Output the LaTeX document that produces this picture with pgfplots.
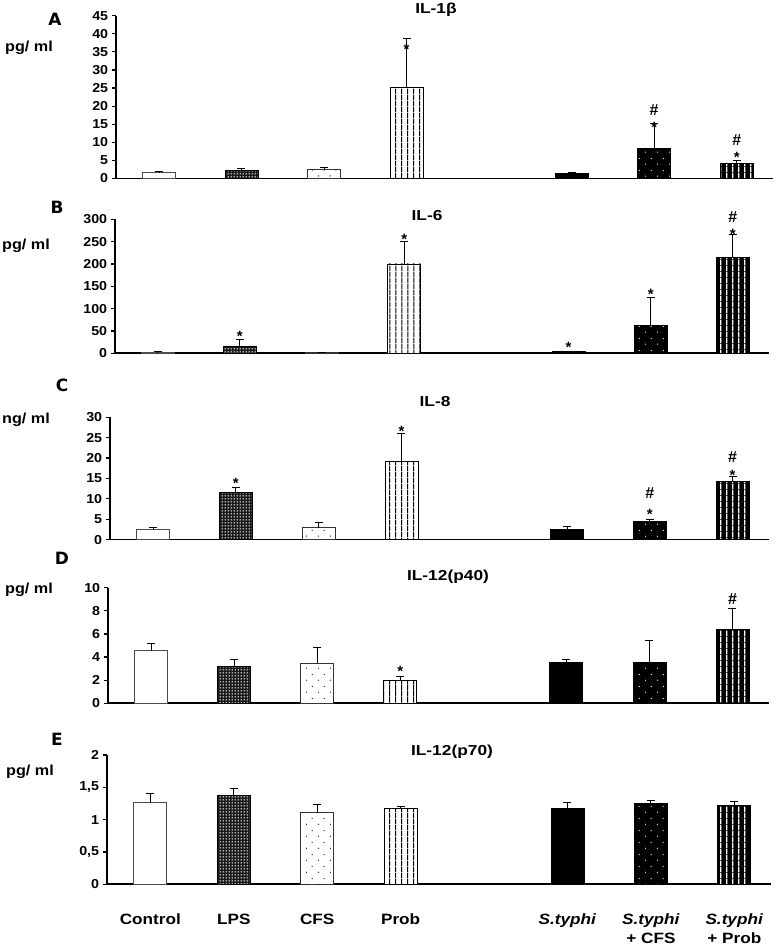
\documentclass[border=0pt]{standalone}
\usepackage{fontspec}
\setmainfont{Liberation Sans}
\newfontfamily\heavy{DejaVu Sans}
\usepackage{pgfplots}
\pgfplotsset{compat=1.18}
\usetikzlibrary{patterns}

\pgfdeclarepatternformonly{stagdots}{\pgfqpoint{0bp}{0bp}}{\pgfqpoint{11.7bp}{12bp}}{\pgfqpoint{11.7bp}{12bp}}{%
  \pgfpathcircle{\pgfqpoint{2.5bp}{3bp}}{0.65bp}%
  \pgfpathcircle{\pgfqpoint{8.35bp}{9bp}}{0.65bp}%
  \pgfusepath{fill}}
\pgfdeclarepatternformonly{densedots}{\pgfqpoint{0bp}{0bp}}{\pgfqpoint{2.7bp}{2.7bp}}{\pgfqpoint{2.7bp}{2.7bp}}{%
  \pgfpathrectangle{\pgfqpoint{0.8bp}{0.8bp}}{\pgfqpoint{1.1bp}{1.1bp}}%
  \pgfusepath{fill}}
\pgfdeclarepatternformonly{vlinesthin}{\pgfqpoint{0bp}{0bp}}{\pgfqpoint{5.7bp}{5.7bp}}{\pgfqpoint{5.7bp}{5.7bp}}{%
  \pgfpathrectangle{\pgfqpoint{2.35bp}{0bp}}{\pgfqpoint{1bp}{5.7bp}}%
  \pgfusepath{fill}}
\pgfdeclarepatternformonly{vlineswide}{\pgfqpoint{0bp}{0bp}}{\pgfqpoint{5.7bp}{5.7bp}}{\pgfqpoint{5.7bp}{5.7bp}}{%
  \pgfpathrectangle{\pgfqpoint{2.15bp}{0bp}}{\pgfqpoint{1.4bp}{5.7bp}}%
  \pgfusepath{fill}}

\pgfplotsset{
  panel/.style={
    scale only axis, ybar, bar width=33bp, bar shift=0pt,
    xmin=-0.52, xmax=7.44, ymin=0,
    axis lines=left, axis line style={line width=1.6bp, -},
    xtick=\empty, ytick pos=left, tick align=outside, major tick length=4bp,
    every tick/.style={line width=1.2bp, black},
    yticklabel style={font=\fontsize{13}{15}\selectfont\bfseries, xscale=1.1},
    /pgf/number format/assume math mode=true,
    clip=false, anchor=south west,
  },
  eb/.style={error bars/y dir=plus, error bars/y explicit,
    error bars/error bar style={line width=0.8bp, black},
    error bars/error mark options={line width=0.8bp, mark size=4bp, black, rotate=90}},
  s0/.style={eb, fill=white, draw=black!70, line width=0.8bp},
  s1/.style={eb, preaction={fill=black!90}, pattern=densedots, pattern color=white, draw=black, line width=0.8bp},
  s2/.style={eb, preaction={fill=white}, pattern=stagdots, pattern color=black, draw=black!80, line width=0.8bp},
  s3/.style={eb, preaction={fill=white}, pattern=vlinesthin, pattern color=black, draw=black, line width=0.8bp},
  s4/.style={eb, fill=black, draw=black, line width=0.8bp},
  s5/.style={eb, preaction={fill=black}, pattern=stagdots, pattern color=white, draw=black, line width=0.8bp},
  s6/.style={eb, preaction={fill=black}, pattern=vlineswide, pattern color=white, draw=black, line width=0.8bp},
  star/.style={only marks, mark=text, text mark={*}, text mark as node=true,
    text mark style={font=\fontsize{15}{16}\selectfont\bfseries, inner sep=0pt, yshift=-2.5bp}},
  hash/.style={only marks, mark=text, text mark={\#}, text mark as node=true,
    text mark style={font=\fontsize{16}{17}\selectfont\bfseries, inner sep=0pt}},
}

\begin{document}
\begin{tikzpicture}[x=1bp,y=1bp]
\path[use as bounding box] (0,0) rectangle (778,947);

% ---------------- A: IL-1beta
\begin{axis}[panel, at={(116bp,768.5bp)}, width=657bp, height=162.8bp,
  ymax=45, ytick={0,5,...,45}]
\addplot[s0] coordinates {(0,1.8) +- (0,0.05)};
\addplot[s1] coordinates {(1,2.3) +- (0,0.6)};
\addplot[s2] coordinates {(2,2.5) +- (0,0.7)};
\addplot[s3] coordinates {(3,25.2) +- (0,13.5)};
\addplot[s4] coordinates {(5,1.5) +- (0,0.05)};
\addplot[s5] coordinates {(6,8.3) +- (0,6.8)};
\addplot[s6] coordinates {(7,4.3) +- (0,0.8)};
\addplot[star] coordinates {(3,36.3) (6,14.7) (7,6.4)};
\addplot[hash] coordinates {(6,18.8) (7,10.5)};
\end{axis}

% ---------------- B: IL-6
\begin{axis}[panel, at={(115bp,593.7bp)}, width=654bp, height=134bp,
  ymax=300, ytick={0,50,...,300}]
\addplot[s0] coordinates {(0,3) +- (0,1)};
\addplot[s1] coordinates {(1,15) +- (0,17)};
\addplot[s2] coordinates {(2,2) +- (0,0.5)};
\addplot[s3] coordinates {(3,200) +- (0,50)};
\addplot[s4] coordinates {(5,3.6) +- (0,1.5)};
\addplot[s5] coordinates {(6,63) +- (0,62)};
\addplot[s6] coordinates {(7,215) +- (0,52)};
\addplot[star] coordinates {(1,43) (3,261) (5,18.6) (6,138) (7,272)};
\addplot[hash] coordinates {(7,306)};
\end{axis}

% ---------------- C: IL-8
\begin{axis}[panel, at={(110bp,407.3bp)}, width=659bp, height=122.4bp,
  ymax=30, ytick={0,5,...,30}]
\addplot[s0] coordinates {(0,2.4) +- (0,0.6)};
\addplot[s1] coordinates {(1,11.6) +- (0,1.1)};
\addplot[s2] coordinates {(2,2.9) +- (0,1.4)};
\addplot[s3] coordinates {(3,19.1) +- (0,7.0)};
\addplot[s4] coordinates {(5,2.5) +- (0,0.7)};
\addplot[s5] coordinates {(6,4.4) +- (0,0.6)};
\addplot[s6] coordinates {(7,14.4) +- (0,1.2)};
\addplot[star] coordinates {(1,14.5) (3,27.1) (6,6.9) (7,16.4)};
\addplot[hash] coordinates {(6,11.4) (7,20.3)};
\end{axis}

% ---------------- D: IL-12(p40)
\begin{axis}[panel, at={(108bp,243.7bp)}, width=661bp, height=115.6bp,
  ymax=10, ytick={0,2,...,10}]
\addplot[s0] coordinates {(0,4.55) +- (0,0.65)};
\addplot[s1] coordinates {(1,3.2) +- (0,0.6)};
\addplot[s2] coordinates {(2,3.45) +- (0,1.4)};
\addplot[s3] coordinates {(3,2.0) +- (0,0.3)};
\addplot[s4] coordinates {(5,3.5) +- (0,0.3)};
\addplot[s5] coordinates {(6,3.5) +- (0,1.9)};
\addplot[s6] coordinates {(7,6.35) +- (0,1.85)};
\addplot[star] coordinates {(3,3.0)};
\addplot[hash] coordinates {(7,9.0)};
\end{axis}

% ---------------- E: IL-12(p70)
\begin{axis}[panel, at={(107bp,62.7bp)}, width=664bp, height=129.3bp,
  ymax=2, ytick={0,0.5,...,2},
  yticklabel style={/pgf/number format/use comma},
  xtick={0,1,2,3,5,6,7},
  xticklabels={Control, LPS, CFS, Prob, {\textit{S.typhi}}, {\textit{S.typhi}\\+ CFS}, {\textit{S.typhi}\\+ Prob}},
  x tick style={draw=none},
  xticklabel style={font=\fontsize{15}{19}\selectfont\bfseries, xscale=1.15, align=center, yshift=-22bp}]
\addplot[s0] coordinates {(0,1.26) +- (0,0.15)};
\addplot[s1] coordinates {(1,1.38) +- (0,0.11)};
\addplot[s2] coordinates {(2,1.11) +- (0,0.12)};
\addplot[s3] coordinates {(3,1.18) +- (0,0.03)};
\addplot[s4] coordinates {(5,1.18) +- (0,0.09)};
\addplot[s5] coordinates {(6,1.25) +- (0,0.05)};
\addplot[s6] coordinates {(7,1.22) +- (0,0.06)};
\end{axis}

% titles, panel letters, units
\begin{scope}[every node/.style={font=\fontsize{14.5}{16}\selectfont\bfseries, inner sep=0pt, xscale=1.2}]
\node at (436,937) {IL-1β};
\node at (427,731) {IL-6};
\node at (435,545) {IL-8};
\node at (448,370) {IL-12(p40)};
\node at (452,195) {IL-12(p70)};
\end{scope}
\begin{scope}[every node/.style={font=\fontsize{14.5}{16}\selectfont\bfseries, inner sep=0pt, xscale=1.12}]
\node at (29,899) {pg/ ml};
\node at (26,701) {pg/ ml};
\node at (26,527) {ng/ ml};
\node at (29,357) {pg/ ml};
\node at (30,175) {pg/ ml};
\end{scope}
\begin{scope}[every node/.style={font=\heavy\fontsize{17}{18}\selectfont\bfseries, inner sep=0pt}]
\node at (55,928) {A};
\node at (57,740) {B};
\node at (62,562) {C};
\node at (62,389) {D};
\node at (57,208) {E};
\end{scope}
\end{tikzpicture}
\end{document}
